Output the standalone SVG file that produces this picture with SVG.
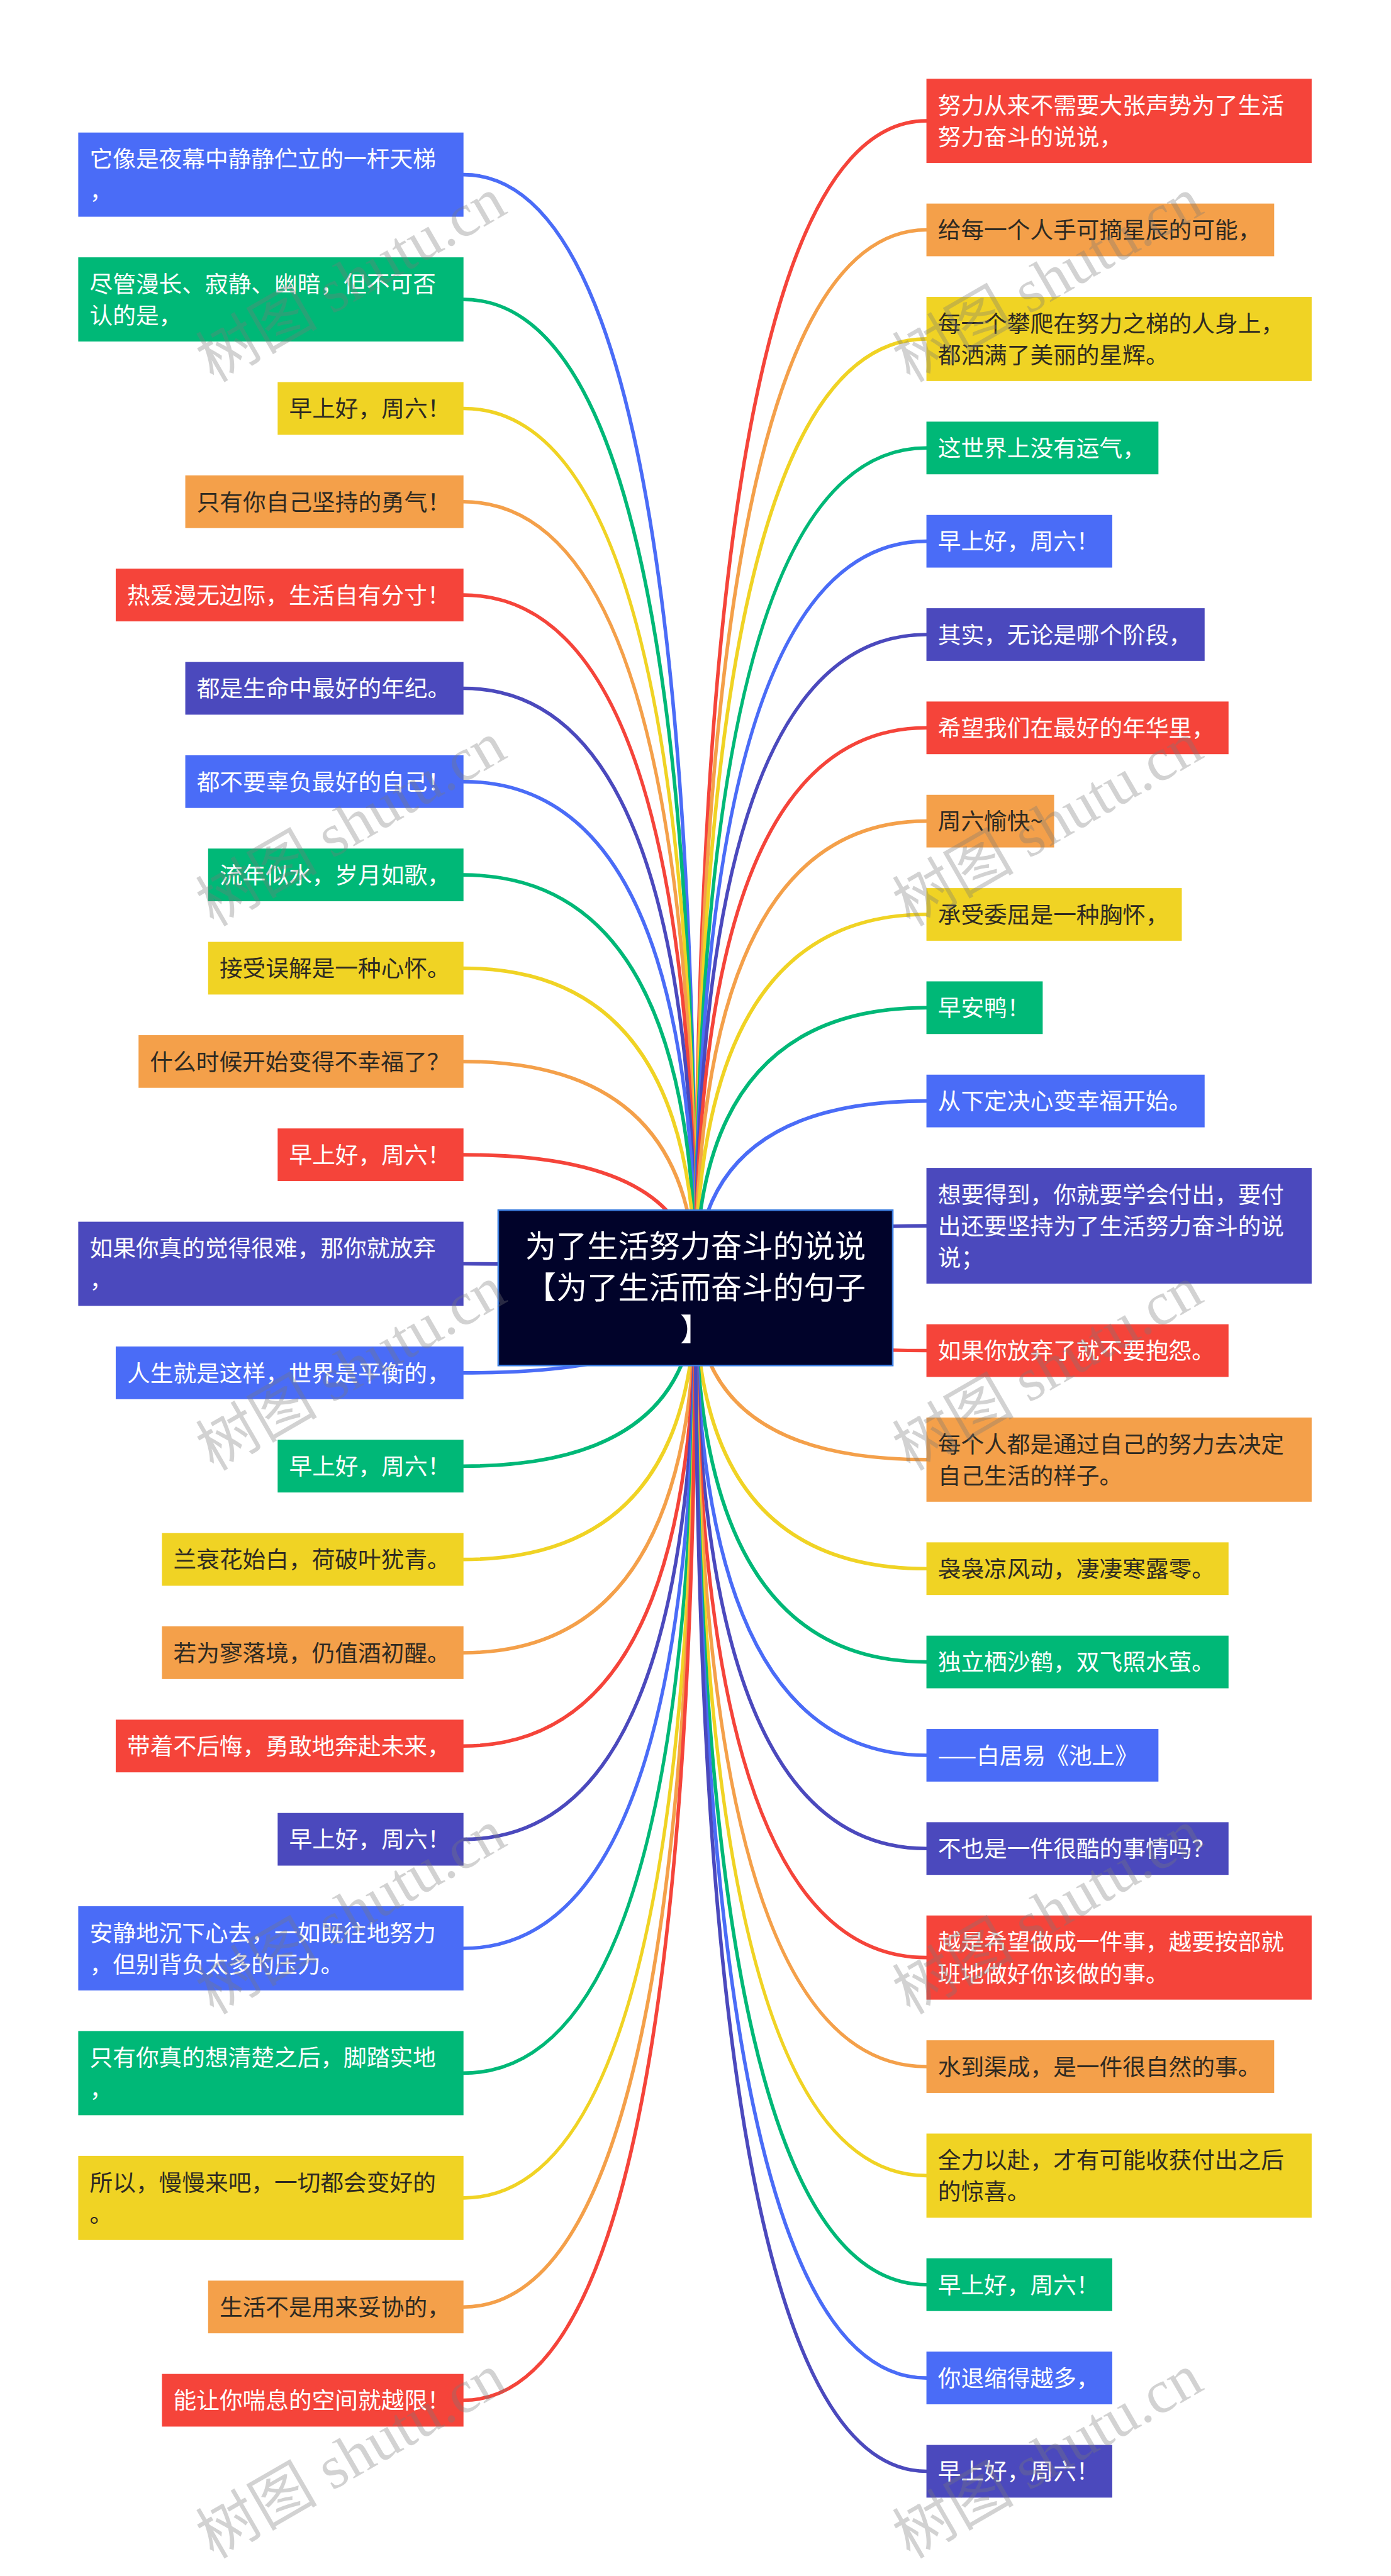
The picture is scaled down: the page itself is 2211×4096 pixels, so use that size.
<svg xmlns="http://www.w3.org/2000/svg" width="2211" height="4096" viewBox="0 0 2211 4096">
<style>
.t{font-family:"Noto Sans CJK SC","Noto Sans",sans-serif;font-size:42.5px}
.w{fill:#fff}
.d{fill:#2e2a22}
.ct{font-family:"Noto Sans CJK SC","Noto Sans",sans-serif;font-size:57px;fill:#fff;text-anchor:middle}
.fb{fill:#4a6cf7}.fg{fill:#00b877}.fy{fill:#f0d324}.fo{fill:#f4a04a}.fr{fill:#f5443a}.fi{fill:#4b49bd}
#connectors path{fill:none;stroke-width:6.5;stroke-linecap:round}
.sb{stroke:#4a6cf7}.sg{stroke:#00b877}.sy{stroke:#f0d324}.so{stroke:#f4a04a}.sr{stroke:#f5443a}.si{stroke:#4b49bd}
.wm{font-family:"Liberation Serif","Noto Sans CJK SC",serif;font-size:112px;fill:#7a7a7a;opacity:.33;text-anchor:middle}
</style>
<rect width="2211" height="4096" fill="#fff"/>
<g transform="scale(0.86367)">
<g id="connectors">
<path class="sb" d="M853 321.5Q1280 321.5 1280 2371"/>
<path class="sg" d="M853 551.25Q1280 551.25 1280 2371"/>
<path class="sy" d="M853 752Q1280 752 1280 2371"/>
<path class="so" d="M853 923.75Q1280 923.75 1280 2371"/>
<path class="sr" d="M853 1095.5Q1280 1095.5 1280 2371"/>
<path class="si" d="M853 1267.25Q1280 1267.25 1280 2371"/>
<path class="sb" d="M853 1439Q1280 1439 1280 2371"/>
<path class="sg" d="M853 1610.75Q1280 1610.75 1280 2371"/>
<path class="sy" d="M853 1782.5Q1280 1782.5 1280 2371"/>
<path class="so" d="M853 1954.25Q1280 1954.25 1280 2371"/>
<path class="sr" d="M853 2126Q1280 2126 1280 2371"/>
<path class="si" d="M853 2326.75Q1280 2326.75 1280 2371"/>
<path class="sb" d="M853 2527.5Q1280 2527.5 1280 2371"/>
<path class="sg" d="M853 2699.25Q1280 2699.25 1280 2371"/>
<path class="sy" d="M853 2871Q1280 2871 1280 2371"/>
<path class="so" d="M853 3042.75Q1280 3042.75 1280 2371"/>
<path class="sr" d="M853 3214.5Q1280 3214.5 1280 2371"/>
<path class="si" d="M853 3386.25Q1280 3386.25 1280 2371"/>
<path class="sb" d="M853 3587Q1280 3587 1280 2371"/>
<path class="sg" d="M853 3816.75Q1280 3816.75 1280 2371"/>
<path class="sy" d="M853 4046.5Q1280 4046.5 1280 2371"/>
<path class="so" d="M853 4247.25Q1280 4247.25 1280 2371"/>
<path class="sr" d="M853 4419Q1280 4419 1280 2371"/>
<path class="sr" d="M1705 222.5Q1280 222.5 1280 2371"/>
<path class="so" d="M1705 423.25Q1280 423.25 1280 2371"/>
<path class="sy" d="M1705 624Q1280 624 1280 2371"/>
<path class="sg" d="M1705 824.75Q1280 824.75 1280 2371"/>
<path class="sb" d="M1705 996.5Q1280 996.5 1280 2371"/>
<path class="si" d="M1705 1168.25Q1280 1168.25 1280 2371"/>
<path class="sr" d="M1705 1340Q1280 1340 1280 2371"/>
<path class="so" d="M1705 1511.75Q1280 1511.75 1280 2371"/>
<path class="sy" d="M1705 1683.5Q1280 1683.5 1280 2371"/>
<path class="sg" d="M1705 1855.25Q1280 1855.25 1280 2371"/>
<path class="sb" d="M1705 2027Q1280 2027 1280 2371"/>
<path class="si" d="M1705 2256.75Q1280 2256.75 1280 2371"/>
<path class="sr" d="M1705 2486.5Q1280 2486.5 1280 2371"/>
<path class="so" d="M1705 2687.25Q1280 2687.25 1280 2371"/>
<path class="sy" d="M1705 2888Q1280 2888 1280 2371"/>
<path class="sg" d="M1705 3059.75Q1280 3059.75 1280 2371"/>
<path class="sb" d="M1705 3231.5Q1280 3231.5 1280 2371"/>
<path class="si" d="M1705 3403.25Q1280 3403.25 1280 2371"/>
<path class="sr" d="M1705 3604Q1280 3604 1280 2371"/>
<path class="so" d="M1705 3804.75Q1280 3804.75 1280 2371"/>
<path class="sy" d="M1705 4005.5Q1280 4005.5 1280 2371"/>
<path class="sg" d="M1705 4206.25Q1280 4206.25 1280 2371"/>
<path class="sb" d="M1705 4378Q1280 4378 1280 2371"/>
<path class="si" d="M1705 4549.75Q1280 4549.75 1280 2371"/>
</g>
<g id="center">
<rect x="917" y="2228" width="726" height="286" fill="#01032a" stroke="#3b7de0" stroke-width="3"/>
<text class="ct" x="1280" y="2314.5">为了生活努力奋斗的说说</text>
<text class="ct" x="1280" y="2391.5">【为了生活而奋斗的句子</text>
<text class="ct" x="1280" y="2468.5">】</text>
</g>
<g id="L1"><rect class="fb" x="144" y="244" width="709" height="155"/><text class="t w" x="165" y="308.5">它像是夜幕中静静伫立的一杆天梯</text><text class="t w" x="165" y="366.5">，</text></g>
<g id="L2"><rect class="fg" x="144" y="473.75" width="709" height="155"/><text class="t w" x="165" y="538.25">尽管漫长、寂静、幽暗，但不可否</text><text class="t w" x="165" y="596.25">认的是，</text></g>
<g id="L3"><rect class="fy" x="511" y="703.5" width="342" height="97"/><text class="t d" x="532" y="768">早上好，周六！</text></g>
<g id="L4"><rect class="fo" x="341" y="875.25" width="512" height="97"/><text class="t d" x="362" y="939.75">只有你自己坚持的勇气！</text></g>
<g id="L5"><rect class="fr" x="213" y="1047" width="640" height="97"/><text class="t w" x="234" y="1111.5">热爱漫无边际，生活自有分寸！</text></g>
<g id="L6"><rect class="fi" x="341" y="1218.75" width="512" height="97"/><text class="t w" x="362" y="1283.25">都是生命中最好的年纪。</text></g>
<g id="L7"><rect class="fb" x="341" y="1390.5" width="512" height="97"/><text class="t w" x="362" y="1455">都不要辜负最好的自己！</text></g>
<g id="L8"><rect class="fg" x="383" y="1562.25" width="470" height="97"/><text class="t w" x="404" y="1626.75">流年似水，岁月如歌，</text></g>
<g id="L9"><rect class="fy" x="383" y="1734" width="470" height="97"/><text class="t d" x="404" y="1798.5">接受误解是一种心怀。</text></g>
<g id="L10"><rect class="fo" x="255" y="1905.75" width="598" height="97"/><text class="t d" x="276" y="1970.25">什么时候开始变得不幸福了？</text></g>
<g id="L11"><rect class="fr" x="511" y="2077.5" width="342" height="97"/><text class="t w" x="532" y="2142">早上好，周六！</text></g>
<g id="L12"><rect class="fi" x="144" y="2249.25" width="709" height="155"/><text class="t w" x="165" y="2313.75">如果你真的觉得很难，那你就放弃</text><text class="t w" x="165" y="2371.75">，</text></g>
<g id="L13"><rect class="fb" x="213" y="2479" width="640" height="97"/><text class="t w" x="234" y="2543.5">人生就是这样，世界是平衡的，</text></g>
<g id="L14"><rect class="fg" x="511" y="2650.75" width="342" height="97"/><text class="t w" x="532" y="2715.25">早上好，周六！</text></g>
<g id="L15"><rect class="fy" x="298" y="2822.5" width="555" height="97"/><text class="t d" x="319" y="2887">兰衰花始白，荷破叶犹青。</text></g>
<g id="L16"><rect class="fo" x="298" y="2994.25" width="555" height="97"/><text class="t d" x="319" y="3058.75">若为寥落境，仍值酒初醒。</text></g>
<g id="L17"><rect class="fr" x="213" y="3166" width="640" height="97"/><text class="t w" x="234" y="3230.5">带着不后悔，勇敢地奔赴未来，</text></g>
<g id="L18"><rect class="fi" x="511" y="3337.75" width="342" height="97"/><text class="t w" x="532" y="3402.25">早上好，周六！</text></g>
<g id="L19"><rect class="fb" x="144" y="3509.5" width="709" height="155"/><text class="t w" x="165" y="3574">安静地沉下心去，一如既往地努力</text><text class="t w" x="165" y="3632">，但别背负太多的压力。</text></g>
<g id="L20"><rect class="fg" x="144" y="3739.25" width="709" height="155"/><text class="t w" x="165" y="3803.75">只有你真的想清楚之后，脚踏实地</text><text class="t w" x="165" y="3861.75">，</text></g>
<g id="L21"><rect class="fy" x="144" y="3969" width="709" height="155"/><text class="t d" x="165" y="4033.5">所以，慢慢来吧，一切都会变好的</text><text class="t d" x="165" y="4091.5">。</text></g>
<g id="L22"><rect class="fo" x="383" y="4198.75" width="470" height="97"/><text class="t d" x="404" y="4263.25">生活不是用来妥协的，</text></g>
<g id="L23"><rect class="fr" x="298" y="4370.5" width="555" height="97"/><text class="t w" x="319" y="4435">能让你喘息的空间就越限！</text></g>
<g id="R1"><rect class="fr" x="1705" y="145" width="709" height="155"/><text class="t w" x="1726" y="209.5">努力从来不需要大张声势为了生活</text><text class="t w" x="1726" y="267.5">努力奋斗的说说，</text></g>
<g id="R2"><rect class="fo" x="1705" y="374.75" width="640" height="97"/><text class="t d" x="1726" y="439.25">给每一个人手可摘星辰的可能，</text></g>
<g id="R3"><rect class="fy" x="1705" y="546.5" width="709" height="155"/><text class="t d" x="1726" y="611">每一个攀爬在努力之梯的人身上，</text><text class="t d" x="1726" y="669">都洒满了美丽的星辉。</text></g>
<g id="R4"><rect class="fg" x="1705" y="776.25" width="427" height="97"/><text class="t w" x="1726" y="840.75">这世界上没有运气，</text></g>
<g id="R5"><rect class="fb" x="1705" y="948" width="342" height="97"/><text class="t w" x="1726" y="1012.5">早上好，周六！</text></g>
<g id="R6"><rect class="fi" x="1705" y="1119.75" width="512" height="97"/><text class="t w" x="1726" y="1184.25">其实，无论是哪个阶段，</text></g>
<g id="R7"><rect class="fr" x="1705" y="1291.5" width="556" height="97"/><text class="t w" x="1726" y="1356">希望我们在最好的年华里，</text></g>
<g id="R8"><rect class="fo" x="1705" y="1463.25" width="235" height="97"/><text class="t d" x="1726" y="1527.75">周六愉快~</text></g>
<g id="R9"><rect class="fy" x="1705" y="1635" width="470" height="97"/><text class="t d" x="1726" y="1699.5">承受委屈是一种胸怀，</text></g>
<g id="R10"><rect class="fg" x="1705" y="1806.75" width="214" height="97"/><text class="t w" x="1726" y="1871.25">早安鸭！</text></g>
<g id="R11"><rect class="fb" x="1705" y="1978.5" width="512" height="97"/><text class="t w" x="1726" y="2043">从下定决心变幸福开始。</text></g>
<g id="R12"><rect class="fi" x="1705" y="2150.25" width="709" height="213"/><text class="t w" x="1726" y="2214.75">想要得到，你就要学会付出，要付</text><text class="t w" x="1726" y="2272.75">出还要坚持为了生活努力奋斗的说</text><text class="t w" x="1726" y="2330.75">说；</text></g>
<g id="R13"><rect class="fr" x="1705" y="2438" width="556" height="97"/><text class="t w" x="1726" y="2502.5">如果你放弃了就不要抱怨。</text></g>
<g id="R14"><rect class="fo" x="1705" y="2609.75" width="709" height="155"/><text class="t d" x="1726" y="2674.25">每个人都是通过自己的努力去决定</text><text class="t d" x="1726" y="2732.25">自己生活的样子。</text></g>
<g id="R15"><rect class="fy" x="1705" y="2839.5" width="556" height="97"/><text class="t d" x="1726" y="2904">袅袅凉风动，凄凄寒露零。</text></g>
<g id="R16"><rect class="fg" x="1705" y="3011.25" width="556" height="97"/><text class="t w" x="1726" y="3075.75">独立栖沙鹤，双飞照水萤。</text></g>
<g id="R17"><rect class="fb" x="1705" y="3183" width="427" height="97"/><text class="t w" x="1726" y="3247.5">——白居易《池上》</text></g>
<g id="R18"><rect class="fi" x="1705" y="3354.75" width="556" height="97"/><text class="t w" x="1726" y="3419.25">不也是一件很酷的事情吗？</text></g>
<g id="R19"><rect class="fr" x="1705" y="3526.5" width="709" height="155"/><text class="t w" x="1726" y="3591">越是希望做成一件事，越要按部就</text><text class="t w" x="1726" y="3649">班地做好你该做的事。</text></g>
<g id="R20"><rect class="fo" x="1705" y="3756.25" width="640" height="97"/><text class="t d" x="1726" y="3820.75">水到渠成，是一件很自然的事。</text></g>
<g id="R21"><rect class="fy" x="1705" y="3928" width="709" height="155"/><text class="t d" x="1726" y="3992.5">全力以赴，才有可能收获付出之后</text><text class="t d" x="1726" y="4050.5">的惊喜。</text></g>
<g id="R22"><rect class="fg" x="1705" y="4157.75" width="342" height="97"/><text class="t w" x="1726" y="4222.25">早上好，周六！</text></g>
<g id="R23"><rect class="fb" x="1705" y="4329.5" width="342" height="97"/><text class="t w" x="1726" y="4394">你退缩得越多，</text></g>
<g id="R24"><rect class="fi" x="1705" y="4501.25" width="342" height="97"/><text class="t w" x="1726" y="4565.75">早上好，周六！</text></g>
<g id="watermarks">
<text class="wm" transform="translate(646 515) rotate(-30)" y="38">树图 shutu.cn</text>
<text class="wm" transform="translate(1928 515) rotate(-30)" y="38">树图 shutu.cn</text>
<text class="wm" transform="translate(646 1517) rotate(-30)" y="38">树图 shutu.cn</text>
<text class="wm" transform="translate(1928 1517) rotate(-30)" y="38">树图 shutu.cn</text>
<text class="wm" transform="translate(646 2519) rotate(-30)" y="38">树图 shutu.cn</text>
<text class="wm" transform="translate(1928 2519) rotate(-30)" y="38">树图 shutu.cn</text>
<text class="wm" transform="translate(646 3520) rotate(-30)" y="38">树图 shutu.cn</text>
<text class="wm" transform="translate(1928 3520) rotate(-30)" y="38">树图 shutu.cn</text>
<text class="wm" transform="translate(646 4522) rotate(-30)" y="38">树图 shutu.cn</text>
<text class="wm" transform="translate(1928 4522) rotate(-30)" y="38">树图 shutu.cn</text>
</g>
</g>
</svg>
